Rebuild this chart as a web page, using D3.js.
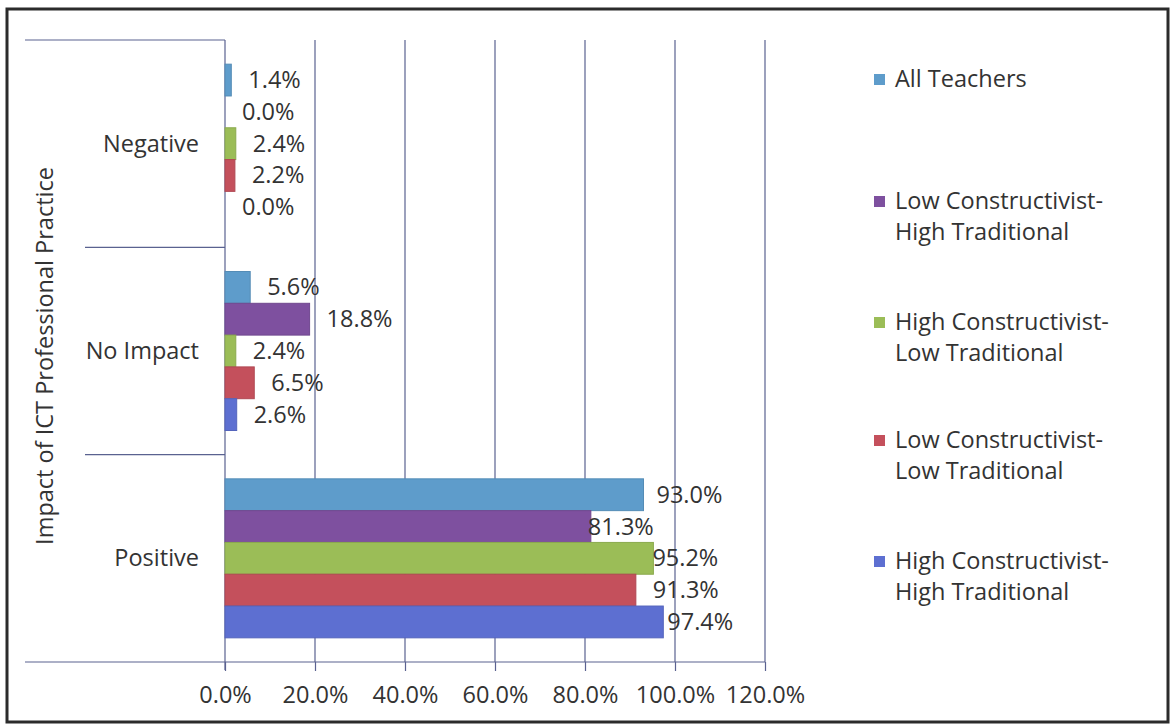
<!DOCTYPE html>
<html><head><meta charset="utf-8">
<script src="https://cdn.jsdelivr.net/npm/d3@7"></script>
<style>body{margin:0;background:#fff;} text{font-family:"Open Sans", Lato, sans-serif; fill:#333;}</style>
</head><body>
<svg id="c" width="1172" height="728"></svg>
<script>
const categories = ["Negative", "No Impact", "Positive"];
const seriesNames = ["All Teachers", "Low Constructivist-High Traditional", "High Constructivist-Low Traditional", "Low Constructivist-Low Traditional", "High Constructivist-High Traditional"];
const legendLines = [["All Teachers"], ["Low Constructivist-", "High Traditional"], ["High Constructivist-", "Low Traditional"], ["Low Constructivist-", "Low Traditional"], ["High Constructivist-", "High Traditional"]];
const allTeachers = [1.4, 5.6, 93.0];
const lowConHighTrad = [0.0, 18.8, 81.3];
const highConLowTrad = [2.4, 2.4, 95.2];
const lowConLowTrad = [2.2, 6.5, 91.3];
const highConHighTrad = [0.0, 2.6, 97.4];
const seriesValues = [allTeachers, lowConHighTrad, highConLowTrad, lowConLowTrad, highConHighTrad];
const xTicks = [0, 20, 40, 60, 80, 100, 120];
const axisTitle = "Impact of ICT Professional Practice";
const colors = ["#5E9CCB", "#7E509F", "#9BBD57", "#C4505C", "#5D6FD1"];

const FS = 23.5;
const svg = d3.select("#c");
const x = d3.scaleLinear().domain([0, 120]).range([225, 765]);
const y = d3.scaleBand().domain(categories).range([40, 662]).padding(0);
const inner = d3.scaleBand().domain(d3.range(seriesNames.length)).range([0, y.bandwidth()]).paddingInner(0).paddingOuter(0.76);
const gridCol = "#5A6290";

// outer border
svg.append("rect").attr("x", 7).attr("y", 9).attr("width", 1161).attr("height", 713)
  .attr("fill", "none").attr("stroke", "#2b2b2b").attr("stroke-width", 3);

// gridlines
svg.append("g").selectAll("line").data(xTicks.slice(1)).join("line")
  .attr("x1", d => x(d)).attr("x2", d => x(d)).attr("y1", 40).attr("y2", 662)
  .attr("stroke", gridCol).attr("stroke-width", 1.2);

// x axis
const xAxis = d3.axisBottom(x).tickValues(xTicks).tickSize(9).tickFormat(d => d3.format(".1f")(d) + "%");
const gx = svg.append("g").attr("transform", "translate(0,662)").call(xAxis);
gx.select(".domain").remove();
gx.selectAll(".tick line").attr("stroke", gridCol).attr("stroke-width", 1.2);
gx.selectAll(".tick text").attr("font-size", FS).attr("dy", 0).attr("y", 41).attr("fill", "#333")
  .style("font-family", "'Open Sans', Lato, sans-serif");
svg.append("line").attr("x1", 25).attr("x2", 765).attr("y1", 662).attr("y2", 662).attr("stroke", gridCol).attr("stroke-width", 1.2);

// category axis line
svg.append("line").attr("x1", x(0)).attr("x2", x(0)).attr("y1", 40).attr("y2", 670).attr("stroke", gridCol).attr("stroke-width", 1.2);
// category dividers
svg.append("line").attr("x1", 25).attr("x2", x(0)).attr("y1", 40).attr("y2", 40).attr("stroke", gridCol).attr("stroke-width", 1.2);
svg.append("g").selectAll("line").data(categories.slice(1)).join("line")
  .attr("x1", 85).attr("x2", x(0)).attr("y1", d => y(d)).attr("y2", d => y(d))
  .attr("stroke", gridCol).attr("stroke-width", 1.2);

// category labels
svg.append("g").selectAll("text").data(categories).join("text")
  .attr("x", 199).attr("y", d => y(d) + y.bandwidth() / 2 + 8).attr("text-anchor", "end")
  .attr("font-size", FS).text(d => d);

// axis title
svg.append("text").attr("transform", `translate(53,${(40 + 662) / 2 + 5}) rotate(-90)`)
  .attr("text-anchor", "middle").attr("font-size", FS).text(axisTitle);

// bars
const rows = [];
categories.forEach((c, ci) => seriesValues.forEach((vals, si) => rows.push({c, ci, si, v: vals[ci]})));
svg.append("g").selectAll("rect").data(rows).join("rect")
  .attr("x", x(0)).attr("y", d => y(d.c) + inner(d.si)).attr("width", d => x(d.v) - x(0))
  .attr("height", inner.bandwidth()).attr("fill", d => colors[d.si])
  .attr("stroke", d => d3.color(colors[d.si]).darker(0.3)).attr("stroke-width", d => d.v > 0 ? 1 : 0);

// data labels (a few were moved by hand in the original)
const nudge = {"2-0": -4, "2-1": -20, "2-2": -18, "2-3": 0, "2-4": -13};
svg.append("g").selectAll("text").data(rows).join("text")
  .attr("x", d => x(d.v) + 17 + (nudge[d.ci + "-" + d.si] || 0))
  .attr("y", d => y(d.c) + inner(d.si) + inner.bandwidth() / 2 + 8)
  .attr("font-size", FS).text(d => d3.format(".1f")(d.v) + "%");

// legend
const legendY = [80, 202, 323, 441, 562];
const lg = svg.append("g").selectAll("g").data(legendLines).join("g")
  .attr("transform", (d, i) => `translate(874,${legendY[i]})`);
lg.append("rect").attr("x", 0).attr("y", -6).attr("width", 11).attr("height", 11).attr("fill", (d, i) => colors[i]);
lg.append("text").attr("x", 21).attr("y", 7).attr("font-size", FS)
  .selectAll("tspan").data(d => d).join("tspan").attr("x", 21).attr("dy", (d, i) => i ? 31 : 0).text(d => d);
</script>
</body></html>
